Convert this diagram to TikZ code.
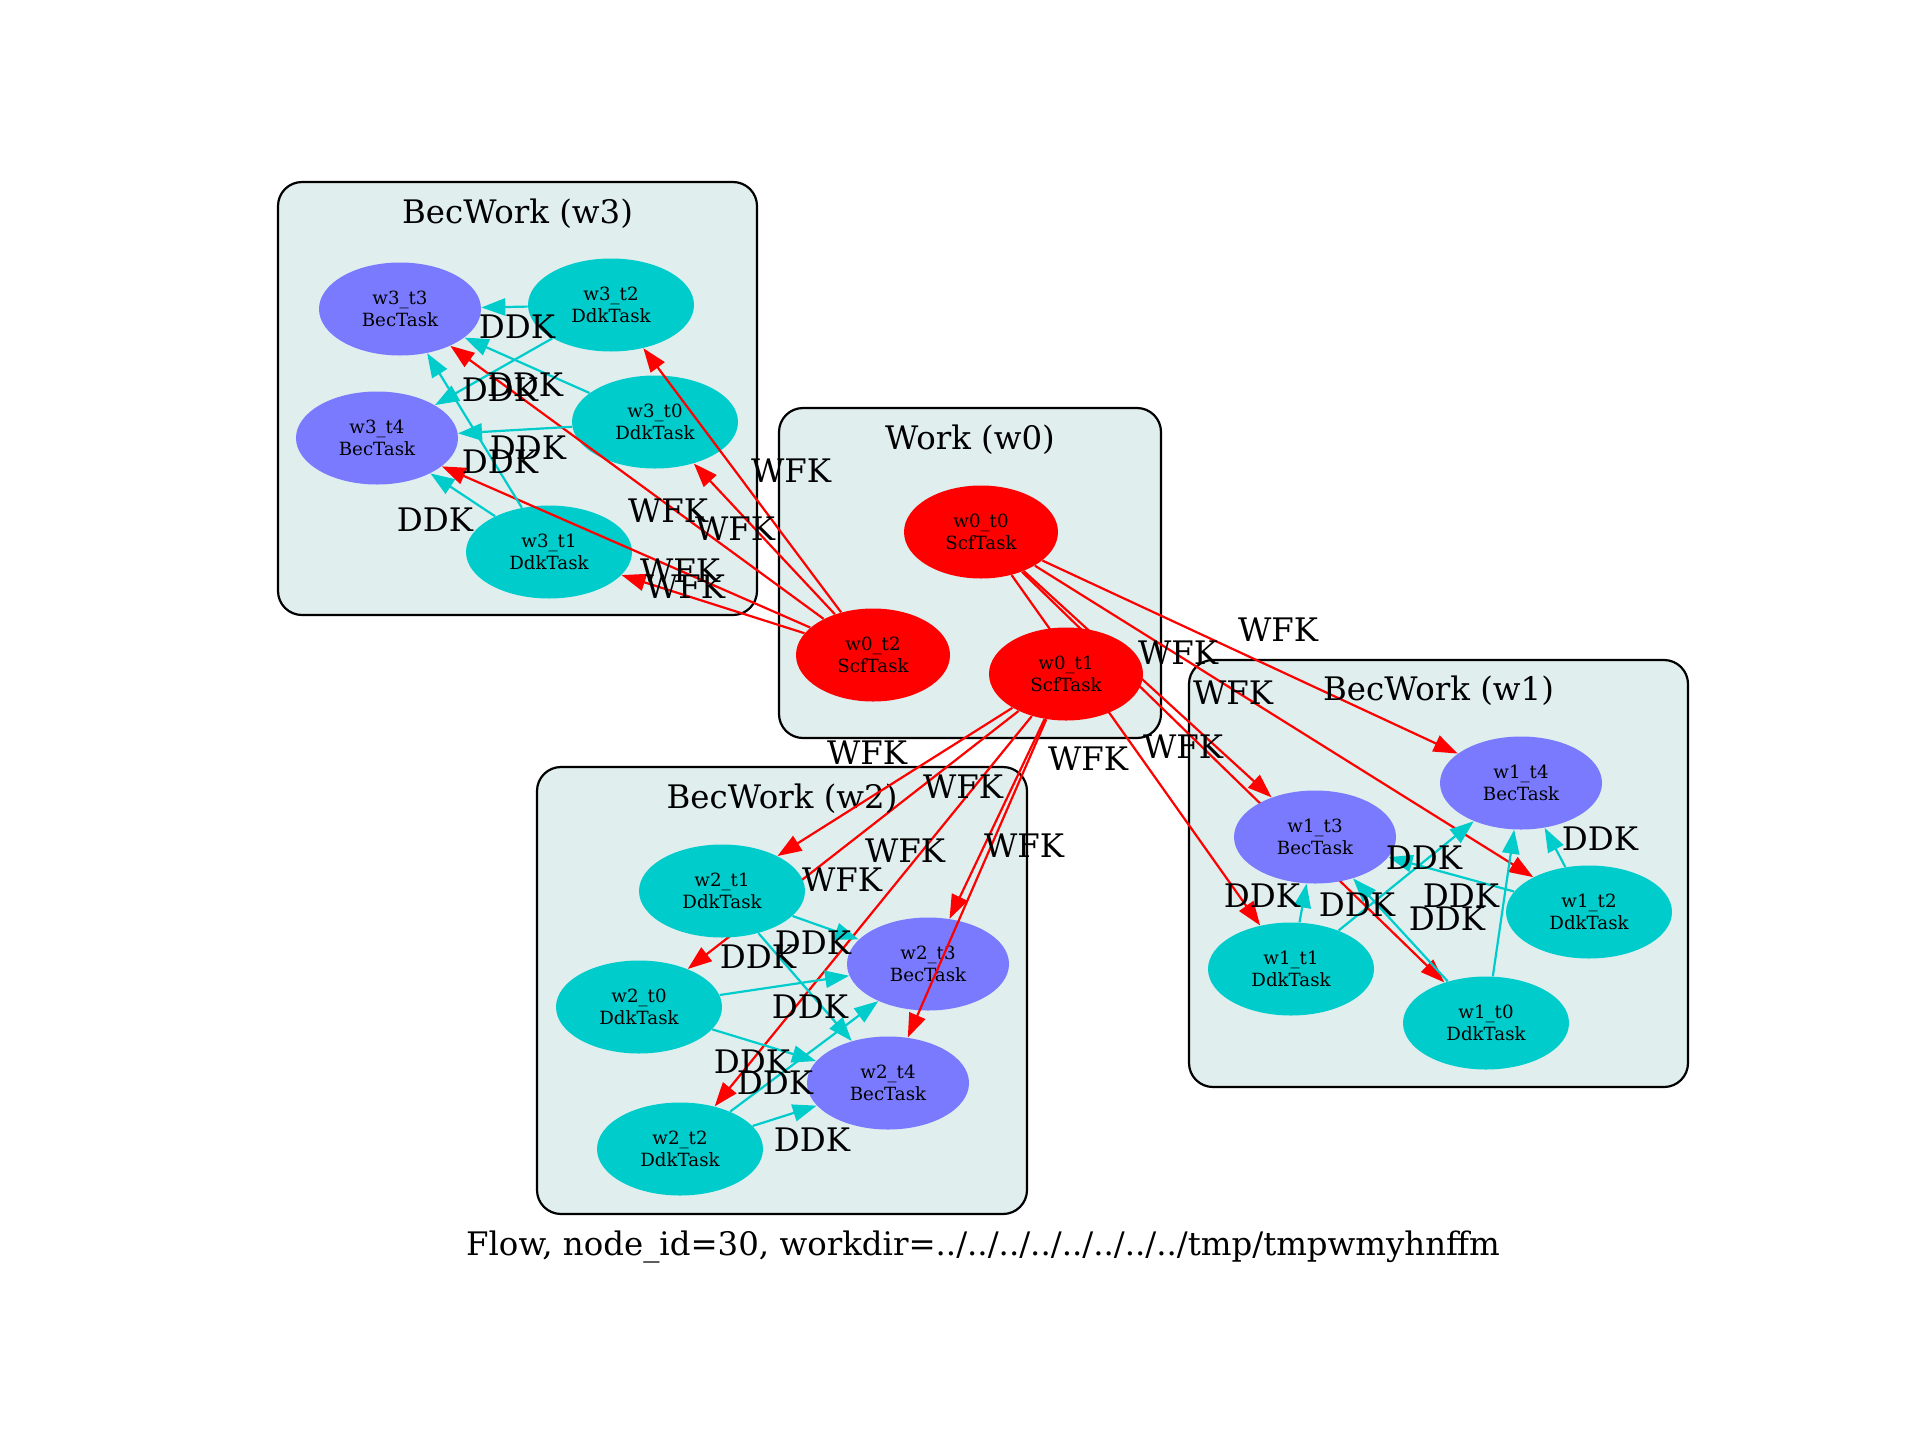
\documentclass[tikz,border=0pt]{standalone}
\usepackage{fontspec}
\setmainfont{DejaVu Serif}
\usetikzlibrary{arrows.meta,shapes.geometric}
\definecolor{clusterbg}{HTML}{E0EEEE}
\definecolor{ddkcol}{HTML}{00CCCC}
\definecolor{beccol}{HTML}{7A7AFF}
\definecolor{scfcol}{HTML}{FF0000}
\pgfdeclarelayer{bg}
\pgfdeclarelayer{edges}
\pgfsetlayers{bg,edges,main}
\tikzset{
  task/.style={ellipse, inner sep=0pt, minimum height=46.5pt, align=center,
    font=\fontsize{9.1}{10.9}\selectfont},
  scf/.style={task, fill=scfcol, minimum width=77pt},
  ddktask/.style={task, fill=ddkcol, minimum width=83pt},
  bec/.style={task, fill=beccol, minimum width=81pt},
  cluster/.style={draw=black, fill=clusterbg, line width=1.1pt, rounded corners=12pt},
  ctitle/.style={anchor=base, inner sep=0pt, font=\fontsize{16.2}{19}\selectfont},
  lab/.style={inner sep=0pt, font=\fontsize{16.2}{19}\selectfont},
  wfk/.style={draw=scfcol, line width=1.1pt, -{Triangle[length=12pt,width=8.6pt]}},
  ddk/.style={draw=ddkcol, line width=1.1pt, -{Triangle[length=12pt,width=8.6pt]}},
}
\begin{document}
\begin{tikzpicture}[x=0.5pt,y=-0.5pt]
\useasboundingbox (0,0) rectangle (1920,1440);

% background and clusters
\begin{pgfonlayer}{bg}
\fill[white] (0,0) rectangle (1920,1440);
\draw[cluster] (278,182) rectangle (757,615);
\draw[cluster] (779,408) rectangle (1161,738);
\draw[cluster] (1189,660) rectangle (1688,1087);
\draw[cluster] (537,767) rectangle (1027,1214);
\end{pgfonlayer}
\node[ctitle] (tw3) at (517.5,223) {BecWork (w3)};
\node[ctitle] (tw0) at (970,449) {Work (w0)};
\node[ctitle] (tw1) at (1438.5,700) {BecWork (w1)};
\node[ctitle] (tw2) at (782,808) {BecWork (w2)};

% nodes
\node[scf] (w0t0) at (981,532) {w0\_t0\\ScfTask};
\node[scf] (w0t1) at (1066,674) {w0\_t1\\ScfTask};
\node[scf] (w0t2) at (873,655) {w0\_t2\\ScfTask};

\node[ddktask] (w1t0) at (1486,1023) {w1\_t0\\DdkTask};
\node[ddktask] (w1t1) at (1291,969) {w1\_t1\\DdkTask};
\node[ddktask] (w1t2) at (1589,912) {w1\_t2\\DdkTask};
\node[bec] (w1t3) at (1315,837) {w1\_t3\\BecTask};
\node[bec] (w1t4) at (1521,783) {w1\_t4\\BecTask};

\node[ddktask] (w2t0) at (639,1007) {w2\_t0\\DdkTask};
\node[ddktask] (w2t1) at (722,891) {w2\_t1\\DdkTask};
\node[ddktask] (w2t2) at (680,1149) {w2\_t2\\DdkTask};
\node[bec] (w2t3) at (928,964) {w2\_t3\\BecTask};
\node[bec] (w2t4) at (888,1083) {w2\_t4\\BecTask};

\node[ddktask] (w3t0) at (655,422) {w3\_t0\\DdkTask};
\node[ddktask] (w3t1) at (549,552) {w3\_t1\\DdkTask};
\node[ddktask] (w3t2) at (611,305) {w3\_t2\\DdkTask};
\node[bec] (w3t3) at (400,309) {w3\_t3\\BecTask};
\node[bec] (w3t4) at (377,438) {w3\_t4\\BecTask};

% edges hidden behind nodes
\begin{pgfonlayer}{edges}
\draw[wfk] (w0t0) -- (w1t0);
\draw[wfk] (w0t0) -- (w1t1);
\draw[wfk] (w0t0) -- (w1t2);
\draw[wfk] (w0t0) -- (w1t3);
\draw[wfk] (w0t0) -- (w1t4);
\draw[wfk] (w0t1) -- (w2t0);
\draw[wfk] (w0t1) -- (w2t2);
\end{pgfonlayer}
% edges drawn over nodes
\draw[wfk] (w0t1) -- (w2t1);
\draw[wfk] (w0t1) -- (w2t3);
\draw[wfk] (w0t1) -- (w2t4);
\draw[wfk] (w0t2) -- (w3t0);
\draw[wfk] (w0t2) -- (w3t1);
\draw[wfk] (w0t2) -- (w3t2);
\draw[wfk] (w0t2) -- (w3t3);
\draw[wfk] (w0t2) -- (w3t4);

\foreach \w in {1,2,3}{
  \foreach \s in {0,1,2}{
    \draw[ddk] (w\w t\s) -- (w\w t3);
    \draw[ddk] (w\w t\s) -- (w\w t4);
  }
}

% WFK labels
\node[lab] (lw1) at (791,471) {WFK};
\node[lab] (lw2) at (668,511) {WFK};
\node[lab] (lw3) at (735,529) {WFK};
\node[lab] (lw4) at (680,571) {WFK};
\node[lab] (lw5) at (685,587) {WFK};
\node[lab] (lw6) at (1278,630) {WFK};
\node[lab] (lw7) at (1178,653) {WFK};
\node[lab] (lw8) at (1233,693) {WFK};
\node[lab] (lw9) at (1183,747) {WFK};
\node[lab] (lw10) at (1088,759) {WFK};
\node[lab] (lw11) at (867,753) {WFK};
\node[lab] (lw12) at (963,787) {WFK};
\node[lab] (lw13) at (905,851) {WFK};
\node[lab] (lw14) at (842,880) {WFK};
\node[lab] (lw15) at (1024,846) {WFK};

% DDK labels
\node[lab] (ld1) at (517,327) {DDK};
\node[lab] (ld2) at (525,385) {DDK};
\node[lab] (ld3) at (500,390) {DDK};
\node[lab] (ld4) at (528,448) {DDK};
\node[lab] (ld5) at (500,462) {DDK};
\node[lab] (ld6) at (435,520) {DDK};
\node[lab] (ld7) at (813,943) {DDK};
\node[lab] (ld8) at (758,957) {DDK};
\node[lab] (ld9) at (810,1007) {DDK};
\node[lab] (ld10) at (752,1062) {DDK};
\node[lab] (ld11) at (775,1083) {DDK};
\node[lab] (ld12) at (812,1140) {DDK};
\node[lab] (ld13) at (1600,839) {DDK};
\node[lab] (ld14) at (1424,858) {DDK};
\node[lab] (ld15) at (1262,896) {DDK};
\node[lab] (ld16) at (1357,905) {DDK};
\node[lab] (ld17) at (1461,896) {DDK};
\node[lab] (ld18) at (1447,919) {DDK};

% caption
\node[ctitle] (cap) at (983,1255) {Flow, node\_id=30, workdir=../../../../../../../../tmp/tmpwmyhnffm};
\end{tikzpicture}
\end{document}
